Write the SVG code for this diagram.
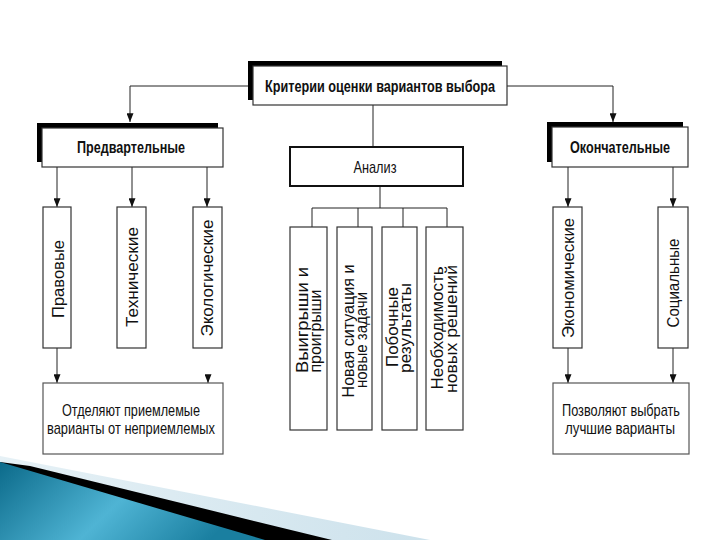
<svg xmlns="http://www.w3.org/2000/svg" width="720" height="540" viewBox="0 0 720 540">
<defs>
<marker id="ah" viewBox="0 0 10 8" refX="10" refY="4" markerWidth="10" markerHeight="7" markerUnits="userSpaceOnUse" orient="auto"><path d="M0,0 L10,4 L0,8 z" fill="#111"/></marker>
<linearGradient id="teal" x1="0" y1="0" x2="1" y2="0.3">
<stop offset="0" stop-color="#0b6a8a"/><stop offset="0.55" stop-color="#4fb4d4"/><stop offset="1" stop-color="#1a7fa0"/>
</linearGradient>
<linearGradient id="lite" x1="0" y1="0" x2="1" y2="0">
<stop offset="0" stop-color="#e6f1f6"/><stop offset="1" stop-color="#cde2ec"/>
</linearGradient>
</defs>
<style>
.box{fill:#fff;stroke:#333;stroke-width:1.2}
.sh{fill:#000}
.ln{fill:none;stroke:#222;stroke-width:1}
.ar{fill:none;stroke:#222;stroke-width:1;marker-end:url(#ah)}
.t{font-family:"Liberation Sans",Arial,sans-serif;font-size:17px;fill:#111;text-anchor:middle;dominant-baseline:central}
.b{font-weight:bold}
.v{font-size:16px}
</style>
<rect width="720" height="540" fill="#fff"/>
<g id="decor">
<polygon points="0,456 430,540 0,540" fill="url(#lite)"/>
<polygon points="30,466 332,540 0,540 0,462" fill="#000"/>
<polygon points="0,462 265,540 0,540" fill="url(#teal)"/>
</g>
<g id="connectors">
<path class="ar" d="M248,86 H130 V122"/>
<path class="ar" d="M507,86 H613 V122"/>
<path class="ln" d="M373,105 V147"/>
<path class="ln" d="M380,186 V208 M312,208 H447 M312,208 V227 M358,208 V227 M403,208 V227 M447,208 V227"/>
<path class="ar" d="M57,167 V207"/>
<path class="ar" d="M132,167 V207"/>
<path class="ar" d="M207,167 V207"/>
<path class="ar" d="M568,167 V207"/>
<path class="ar" d="M673,167 V207"/>
<path class="ar" d="M57,348 V383"/>
<path class="ar" d="M208,376 V383"/>
<path class="ar" d="M568,348 V383"/>
<path class="ar" d="M673,348 V383"/>
</g>
<g id="root">
<rect class="sh" x="248" y="61" width="254" height="39"/>
<rect class="box" x="253" y="66" width="254" height="39"/>
<text class="t b" x="380" y="86" font-size="18" textLength="230" lengthAdjust="spacingAndGlyphs">Критерии оценки вариантов выбора</text>
</g>
<g id="pred">
<rect class="sh" x="37" y="123" width="181" height="39"/>
<rect class="box" x="42" y="128" width="181" height="39"/>
<text class="t b" x="131" y="147" textLength="108" lengthAdjust="spacingAndGlyphs">Предвартельные</text>
</g>
<g id="okon">
<rect class="sh" x="547" y="122" width="136" height="40"/>
<rect class="box" x="552" y="127" width="136" height="40"/>
<text class="t b" x="620" y="147" textLength="100" lengthAdjust="spacingAndGlyphs">Окончательные</text>
</g>
<g id="analiz">
<rect class="box" x="290" y="147" width="173" height="39" style="stroke-width:2;stroke:#111"/>
<text class="t" x="375" y="167" textLength="43" lengthAdjust="spacingAndGlyphs">Анализ</text>
</g>
<g id="pravovye">
<rect class="box" x="43" y="207" width="28" height="141"/>
<text class="t" x="58" y="279" transform="rotate(-90 58 279)" textLength="78" lengthAdjust="spacingAndGlyphs">Правовые</text>
</g>
<g id="tehnicheskie">
<rect class="box" x="117" y="207" width="29" height="141"/>
<text class="t" x="132" y="277" transform="rotate(-90 132 277)" textLength="100" lengthAdjust="spacingAndGlyphs">Технические</text>
</g>
<g id="ekologicheskie">
<rect class="box" x="193" y="207" width="29" height="141"/>
<text class="t" x="207" y="278" transform="rotate(-90 207 278)" textLength="117" lengthAdjust="spacingAndGlyphs">Экологические</text>
</g>
<g id="ekonomicheskie">
<rect class="box" x="553" y="207" width="29" height="141"/>
<text class="t" x="568" y="278" transform="rotate(-90 568 278)" textLength="120" lengthAdjust="spacingAndGlyphs">Экономические</text>
</g>
<g id="socialnye">
<rect class="box" x="658" y="207" width="30" height="141"/>
<text class="t" x="673" y="283" transform="rotate(-90 673 283)" textLength="89" lengthAdjust="spacingAndGlyphs">Социальные</text>
</g>
<g id="vyigryshi">
<rect class="box" x="290" y="227" width="37" height="203"/>
<text class="t v" x="302" y="320" transform="rotate(-90 302 320)" textLength="106" lengthAdjust="spacingAndGlyphs">Выигрыши и</text>
<text class="t v" x="315" y="331" transform="rotate(-90 315 331)" textLength="83" lengthAdjust="spacingAndGlyphs">проигрыши</text>
</g>
<g id="novaya">
<rect class="box" x="337" y="227" width="35" height="203"/>
<text class="t v" x="348" y="331" transform="rotate(-90 348 331)" textLength="133" lengthAdjust="spacingAndGlyphs">Новая ситуация и</text>
<text class="t v" x="361" y="340" transform="rotate(-90 361 340)" textLength="96" lengthAdjust="spacingAndGlyphs">новые задачи</text>
</g>
<g id="pobochnye">
<rect class="box" x="382" y="227" width="35" height="203"/>
<text class="t v" x="392" y="327" transform="rotate(-90 392 327)" textLength="80" lengthAdjust="spacingAndGlyphs">Побочные</text>
<text class="t v" x="405" y="328" transform="rotate(-90 405 328)" textLength="90" lengthAdjust="spacingAndGlyphs">результаты</text>
</g>
<g id="neobhodimost">
<rect class="box" x="426" y="227" width="37" height="203"/>
<text class="t v" x="437" y="328" transform="rotate(-90 437 328)" textLength="123" lengthAdjust="spacingAndGlyphs">Необходимость</text>
<text class="t v" x="451" y="329" transform="rotate(-90 451 329)" textLength="128" lengthAdjust="spacingAndGlyphs">новых решений</text>
</g>
<g id="otdelyayut">
<rect class="box" x="43" y="383" width="180" height="71" style="stroke:#555"/>
<text class="t" x="131" y="410" textLength="138" lengthAdjust="spacingAndGlyphs">Отделяют приемлемые</text>
<text class="t" x="131" y="428" textLength="168" lengthAdjust="spacingAndGlyphs">варианты от неприемлемых</text>
</g>
<g id="pozvolyayut">
<rect class="box" x="553" y="383" width="136" height="71" style="stroke:#555"/>
<text class="t" x="621" y="410" textLength="118" lengthAdjust="spacingAndGlyphs">Позволяют выбрать</text>
<text class="t" x="620" y="428" textLength="110" lengthAdjust="spacingAndGlyphs">лучшие варианты</text>
</g>
</svg>
